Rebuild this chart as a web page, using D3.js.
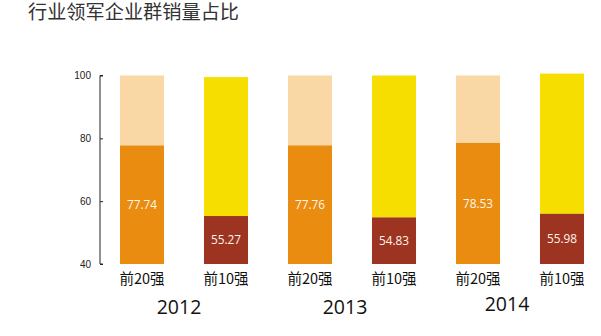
<!DOCTYPE html>
<html>
<head>
<meta charset="utf-8">
<script src="https://cdn.jsdelivr.net/npm/d3@7"></script>
<style>
  html, body { margin: 0; padding: 0; background: #fff; }
  svg { display: block; }
</style>
</head>
<body>
<svg id="chart" width="601" height="336"></svg>
<script>
// Share of sales held by the leading enterprise groups (%)
const years = ["2012", "2013", "2014"];
const groups = ["前20强", "前10强"];
const top20Share = [77.74, 77.76, 78.53];
const top10Share = [55.27, 54.83, 55.98];
const stackTotals = [100, 99.5, 100, 100, 100, 100.6];
const yTicks = [40, 60, 80, 100];

const colors = {
  "前20强": { base: "#E98C10", rest: "#FAD8A5" },
  "前10强": { base: "#9D3421", rest: "#F5DE00" }
};

const rows = [];
years.forEach((yr, i) => {
  rows.push({ key: yr + "-0", year: yr, group: groups[0], value: top20Share[i] });
  rows.push({ key: yr + "-1", year: yr, group: groups[1], value: top10Share[i] });
});
rows.forEach((r, i) => { r.total = stackTotals[i]; });

const svg = d3.select("#chart");
const cjk = "'Noto Sans CJK SC', 'Noto Sans', sans-serif";

const x = d3.scaleBand()
  .domain(rows.map(d => d.key))
  .range([100, 604])
  .paddingInner(0.476)
  .paddingOuter(0.238);

const y = d3.scaleLinear().domain([40, 100]).range([264, 75.5]);

// title
svg.append("text")
  .attr("x", 28).attr("y", 19)
  .attr("font-family", cjk)
  .attr("font-size", 19.2)
  .attr("fill", "#333")
  .text("行业领军企业群销量占比");

// upper (remaining) segments
svg.append("g").selectAll("rect")
  .data(rows).join("rect")
  .attr("x", d => x(d.key))
  .attr("width", x.bandwidth())
  .attr("y", d => y(d.total))
  .attr("height", d => y(d.value) - y(d.total))
  .attr("fill", d => colors[d.group].rest);

// share segments
svg.append("g").selectAll("rect")
  .data(rows).join("rect")
  .attr("x", d => x(d.key))
  .attr("width", x.bandwidth())
  .attr("y", d => y(d.value))
  .attr("height", d => y(40) - y(d.value))
  .attr("fill", d => colors[d.group].base);

// value labels, centred in the share segment
svg.append("g").selectAll("text")
  .data(rows).join("text")
  .attr("x", d => x(d.key) + x.bandwidth() / 2)
  .attr("y", d => (y(d.value) + y(40)) / 2)
  .attr("dy", "0.35em")
  .attr("text-anchor", "middle")
  .attr("font-family", "'Open Sans', sans-serif")
  .attr("font-size", 11.8)
  .attr("fill", "#FFF6EA")
  .text(d => d.value.toFixed(2));

// y axis, ticks pointing inward
const yAxis = svg.append("g")
  .attr("transform", "translate(100,0)")
  .call(d3.axisRight(y).tickValues(yTicks).tickSize(3).tickFormat(d3.format("d")));
yAxis.select(".domain").attr("stroke", "#222").attr("d", `M3,${y(100)}H0V${y(40)}H3`);
yAxis.selectAll(".tick line").attr("stroke", "#222");
yAxis.selectAll(".tick text")
  .attr("x", -9)
  .attr("text-anchor", "end")
  .attr("font-family", "'Liberation Sans', Arial, sans-serif")
  .attr("font-size", 10)
  .attr("fill", "#222");

// category labels under each bar
svg.append("g").selectAll("text")
  .data(rows).join("text")
  .attr("x", d => x(d.key) + x.bandwidth() / 2)
  .attr("y", 284)
  .attr("text-anchor", "middle")
  .attr("font-family", cjk)
  .attr("font-size", 14.5)
  .attr("fill", "#111")
  .text(d => d.group);

// year labels under each pair
const yearOffset = [37, 35, 29];
svg.append("g").selectAll("text")
  .data(years).join("text")
  .attr("x", (d, i) => x(d + "-0") + x.bandwidth() / 2 + yearOffset[i])
  .attr("y", (d, i) => i === 2 ? 311 : 314)
  .attr("text-anchor", "middle")
  .attr("font-family", "'Open Sans', sans-serif")
  .attr("font-size", 19.5)
  .attr("fill", "#111")
  .text(d => d);
</script>
</body>
</html>
